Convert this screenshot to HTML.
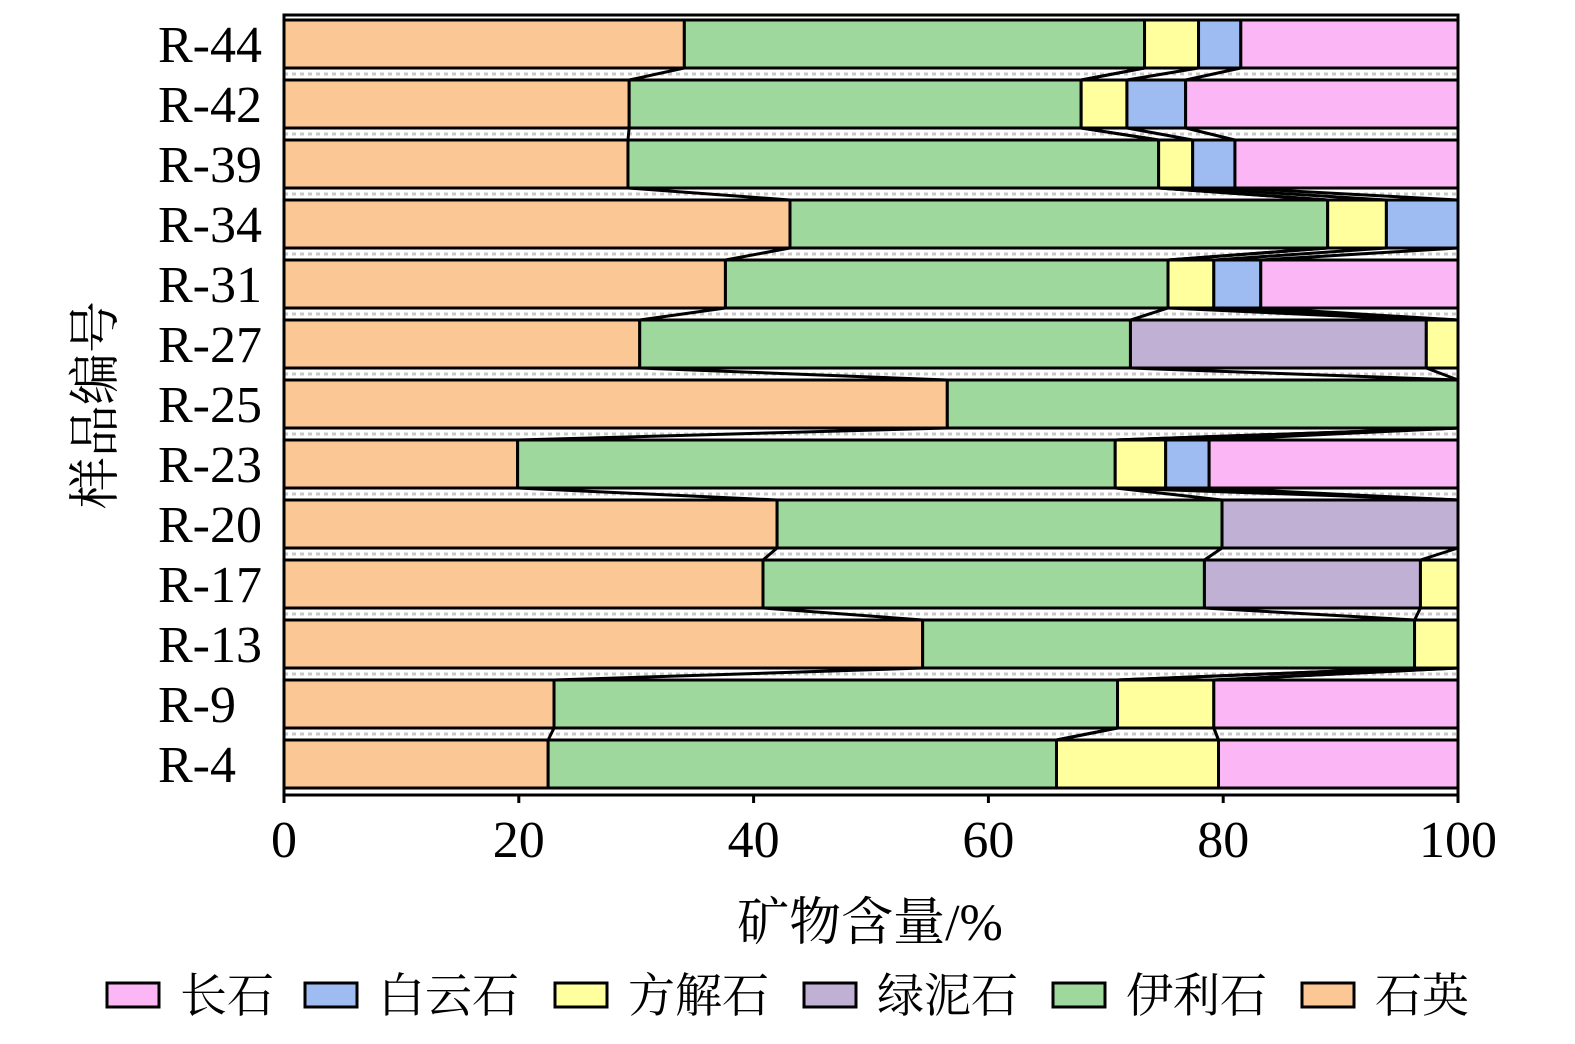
<!DOCTYPE html>
<html><head><meta charset="utf-8"><style>
body{margin:0;background:#fff;}
svg text{font-family:"Liberation Serif","Noto Serif CJK SC",serif;fill:#000;}
</style></head><body>
<svg id="chart" width="1575" height="1039" xmlns="http://www.w3.org/2000/svg"></svg>
<script>
const samples = ["R-44","R-42","R-39","R-34","R-31","R-27","R-25","R-23","R-20","R-17","R-13","R-9","R-4"];
const quartz   = [34.1,29.4,29.3,43.1,37.6,30.3,56.5,19.9,42.0,40.8,54.4,23.0,22.5];
const illite   = [39.2,38.5,45.2,45.8,37.7,41.8,43.5,50.9,37.9,37.6,41.9,48.0,43.3];
const chlorite = [0,0,0,0,0,25.2,0,0,20.1,18.4,0,0,0];
const calcite  = [4.6,3.9,2.9,5.0,3.9,2.7,0,4.3,0,3.2,3.7,8.2,13.8];
const dolomite = [3.6,5.0,3.6,6.1,4.0,0,0,3.7,0,0,0,0,0];
const feldspar = [18.5,23.2,19.0,0,16.8,0,0,21.2,0,0,0,20.8,20.4];
const xTicks = [0,20,40,60,80,100];

const svg = document.getElementById('chart');
const NS = "http://www.w3.org/2000/svg";
const L=284,R=1458,T=15,B=795,band=60,bh=48;
const x = v => L + v/100*(R-L);
const yc = i => T + band/2 + band*i - 1;
function mk(tag, attrs){const e=document.createElementNS(NS,tag);for(const k in attrs)e.setAttribute(k,attrs[k]);svg.appendChild(e);return e;}

const series = [
 {name:"quartz",vals:quartz,color:"#FBC895"},
 {name:"illite",vals:illite,color:"#9ED89C"},
 {name:"chlorite",vals:chlorite,color:"#C0B1D4"},
 {name:"calcite",vals:calcite,color:"#FFFF9E"},
 {name:"dolomite",vals:dolomite,color:"#9FBCF2"},
 {name:"feldspar",vals:feldspar,color:"#FBB6F5"}
];

for(let i=0;i<samples.length-1;i++){
  const yy=T+band*(i+1)-1;
  const l=mk('line',{x1:L,x2:R,y1:yy,y2:yy,stroke:'#c8c8c8','stroke-width':3,'stroke-dasharray':'4 4'});
  
  
}

const cums=[];
samples.forEach((s,i)=>{
  let c=0; const arr=[0];
  series.forEach(se=>{
    const v=se.vals[i];
    if(v>0){
      const r=mk('rect',{x:x(c),y:yc(i)-bh/2,width:x(c+v)-x(c),height:bh,fill:se.color,stroke:'#000','stroke-width':3});
      
      
    }
    c+=v; arr.push(c);
  });
  cums.push(arr);
});
for(let i=0;i<samples.length-1;i++){
  for(let k=1;k<series.length;k++){
    const l=mk('line',{x1:x(Math.min(cums[i][k],100)),y1:yc(i)+bh/2,x2:x(Math.min(cums[i+1][k],100)),y2:yc(i+1)-bh/2,stroke:'#000','stroke-width':3});
    
    
  }
}
const f=mk('rect',{x:L,y:T,width:R-L,height:B-T,fill:'none',stroke:'#000','stroke-width':3});



xTicks.forEach(t=>{
  const tk=mk('line',{x1:x(t),x2:x(t),y1:B,y2:B+8,stroke:'#000','stroke-width':3});
  
  
  const tx=mk('text',{x:x(t),y:857,'text-anchor':'middle','font-size':52});
  tx.textContent=t;
  
  
});
samples.forEach((s,i)=>{
  const tx=mk('text',{x:158,y:yc(i)+18,'font-size':52});
  tx.textContent=s;
  
  
});
const xt=mk('text',{x:870,y:940,'text-anchor':'middle','font-size':52});
xt.textContent="矿物含量/%";


const yt=mk('text',{x:0,y:0,'text-anchor':'middle','font-size':52,transform:'translate(113,405) rotate(-90)'});
yt.textContent="样品编号";



const legNames=["长石","白云石","方解石","绿泥石","伊利石","石英"];
const legColors=["#FBB6F5","#9FBCF2","#FFFF9E","#C0B1D4","#9ED89C","#FBC895"];
const legBoxX=[107,305,555,804,1053,1302];
legNames.forEach((n,i)=>{
  const bx=legBoxX[i];
  const r=mk('rect',{x:bx,y:983,width:52,height:24,fill:legColors[i],stroke:'#000','stroke-width':3});
  
  
  const t=mk('text',{x:bx+73,y:1012,'font-size':47});
  t.textContent=n;
  
  
});
</script>
</body></html>
